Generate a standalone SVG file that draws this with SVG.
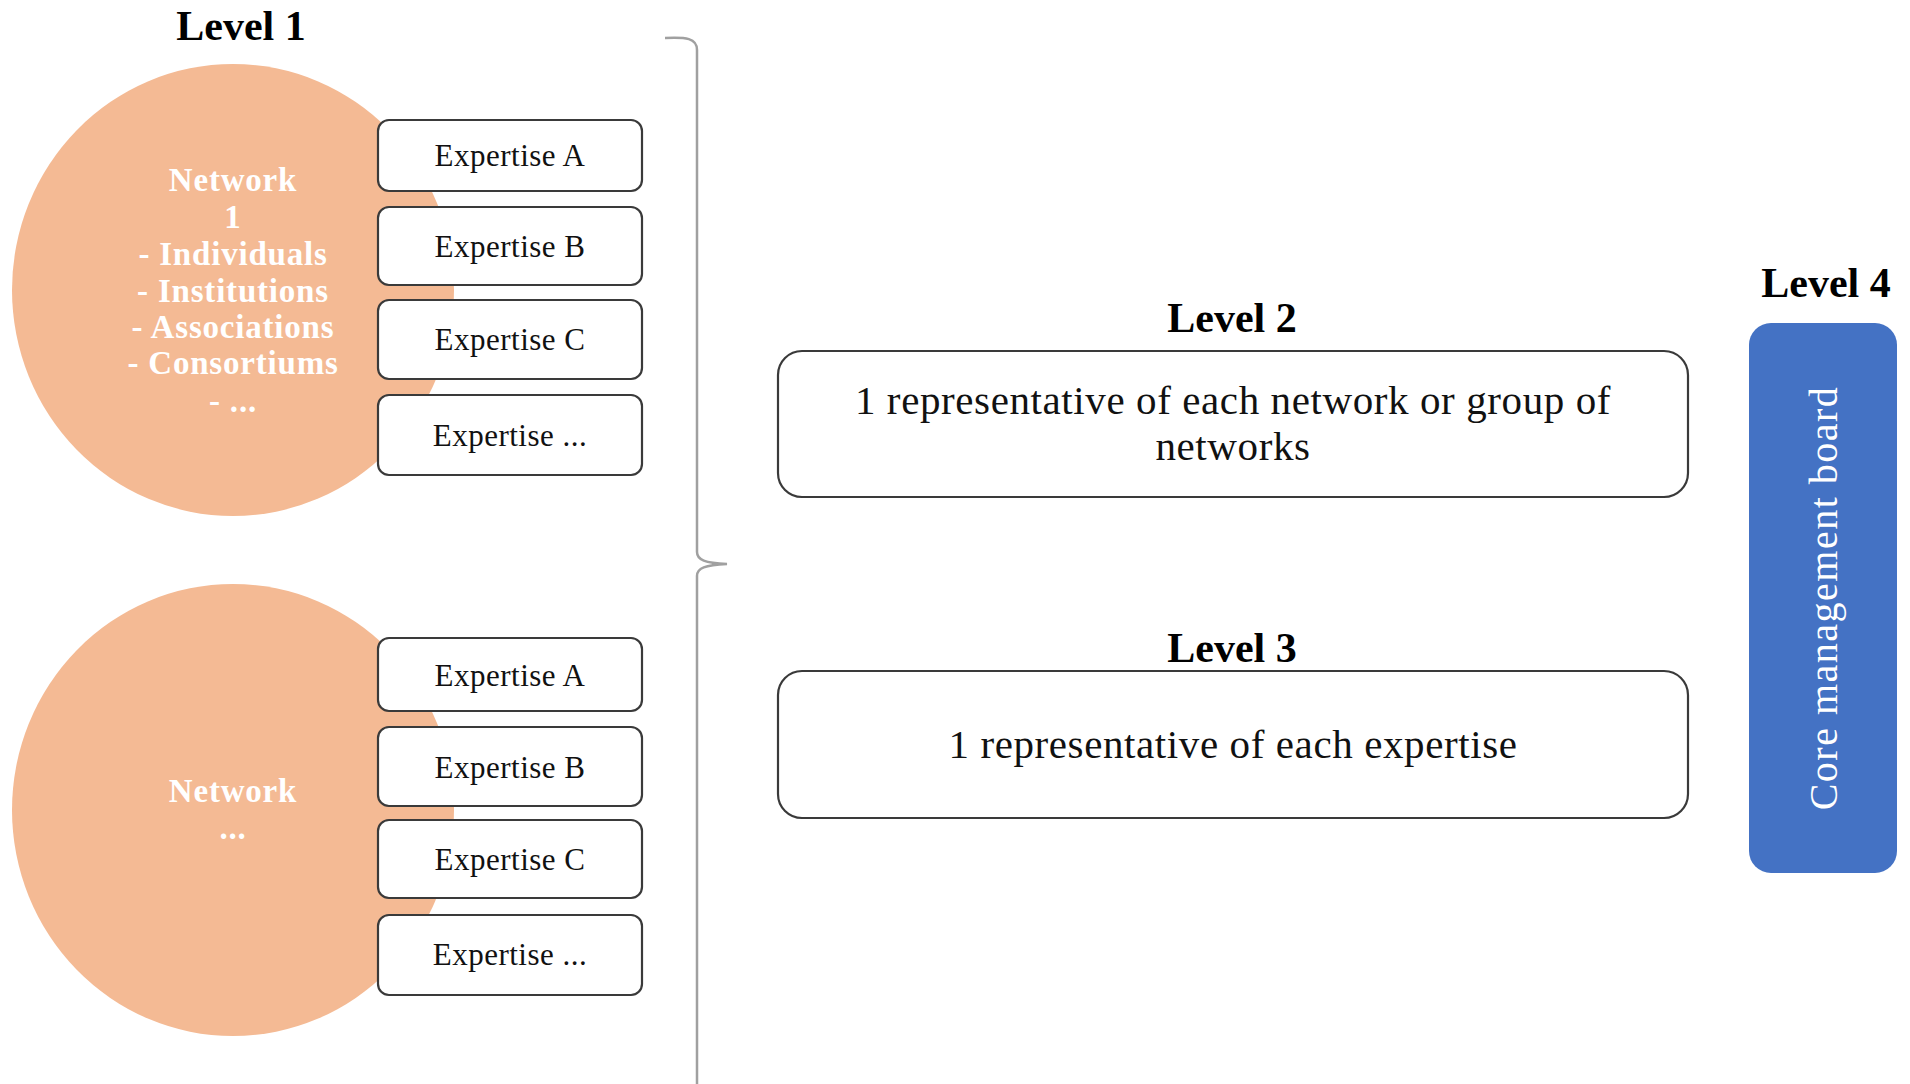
<svg xmlns="http://www.w3.org/2000/svg" width="1910" height="1084" viewBox="0 0 1910 1084">
<style>
.bg{fill:#ffffff}
.net{fill:#F4BA94}
.nettxt{font-family:"Liberation Serif",serif;font-weight:bold;font-size:33px;fill:#ffffff;text-anchor:middle;letter-spacing:0.8px}
.exp{fill:#ffffff;stroke:#3a3a3a;stroke-width:2.2}
.exptxt{font-family:"Liberation Serif",serif;font-size:31px;fill:#111111;text-anchor:middle;letter-spacing:0.5px}
.lvl{font-family:"Liberation Serif",serif;font-weight:bold;font-size:42px;fill:#000000;text-anchor:middle}
.rep{fill:#ffffff;stroke:#3a3a3a;stroke-width:2.2}
.reptxt{font-family:"Liberation Serif",serif;font-size:41px;fill:#111111;text-anchor:middle;letter-spacing:0.6px}
.board{fill:#4472C4}
.boardtxt{font-family:"Liberation Serif",serif;font-size:40px;fill:#ffffff;text-anchor:middle;letter-spacing:1.5px}
.brace{fill:none;stroke:#a0a0a0;stroke-width:2.5}
</style>
<rect class="bg" x="0" y="0" width="1910" height="1084"/>

<text class="lvl" x="241" y="40">Level 1</text>

<g id="network1">
  <ellipse class="net" cx="233" cy="290" rx="221" ry="226"/>
  <text class="nettxt" x="233" y="191">Network</text>
  <text class="nettxt" x="233" y="228">1</text>
  <text class="nettxt" x="233" y="265">- Individuals</text>
  <text class="nettxt" x="233" y="302">- Institutions</text>
  <text class="nettxt" x="233" y="338">- Associations</text>
  <text class="nettxt" x="233" y="374">- Consortiums</text>
  <text class="nettxt" x="233" y="412">- ...</text>
</g>

<g id="net1-expA"><rect class="exp" x="378" y="120" width="264" height="71" rx="11"/><text class="exptxt" x="510" y="166">Expertise A</text></g>
<g id="net1-expB"><rect class="exp" x="378" y="207" width="264" height="78" rx="11"/><text class="exptxt" x="510" y="257">Expertise B</text></g>
<g id="net1-expC"><rect class="exp" x="378" y="300" width="264" height="79" rx="11"/><text class="exptxt" x="510" y="350">Expertise C</text></g>
<g id="net1-expD"><rect class="exp" x="378" y="395" width="264" height="80" rx="11"/><text class="exptxt" x="510" y="446">Expertise ...</text></g>

<g id="network2">
  <ellipse class="net" cx="233" cy="810" rx="221" ry="226"/>
  <text class="nettxt" x="233" y="802">Network</text>
  <text class="nettxt" x="233" y="839">...</text>
</g>

<g id="net2-expA"><rect class="exp" x="378" y="638" width="264" height="73" rx="11"/><text class="exptxt" x="510" y="686">Expertise A</text></g>
<g id="net2-expB"><rect class="exp" x="378" y="727" width="264" height="79" rx="11"/><text class="exptxt" x="510" y="778">Expertise B</text></g>
<g id="net2-expC"><rect class="exp" x="378" y="820" width="264" height="78" rx="11"/><text class="exptxt" x="510" y="870">Expertise C</text></g>
<g id="net2-expD"><rect class="exp" x="378" y="915" width="264" height="80" rx="11"/><text class="exptxt" x="510" y="965">Expertise ...</text></g>

<g id="connectors">
  <path class="brace" d="M 665 38 C 686 37 697 38 697 50 L 697 552 C 697 560 705 563 727 564 C 705 565 697 568 697 576 L 697 1090"/>
</g>

<g id="level2">
  <text class="lvl" x="1232" y="332">Level 2</text>
  <rect class="rep" x="778" y="351" width="910" height="146" rx="24"/>
  <text class="reptxt" x="1233" y="414">1 representative of each network or group of</text>
  <text class="reptxt" x="1233" y="460">networks</text>
</g>

<g id="level3">
  <text class="lvl" x="1232" y="662">Level 3</text>
  <rect class="rep" x="778" y="671" width="910" height="147" rx="24"/>
  <text class="reptxt" x="1233" y="758">1 representative of each expertise</text>
</g>

<g id="level4">
  <text class="lvl" x="1826" y="297">Level 4</text>
  <rect class="board" x="1749" y="323" width="148" height="550" rx="22"/>
  <text class="boardtxt" transform="translate(1837 598) rotate(-90)" x="0" y="0">Core management board</text>
</g>
</svg>
